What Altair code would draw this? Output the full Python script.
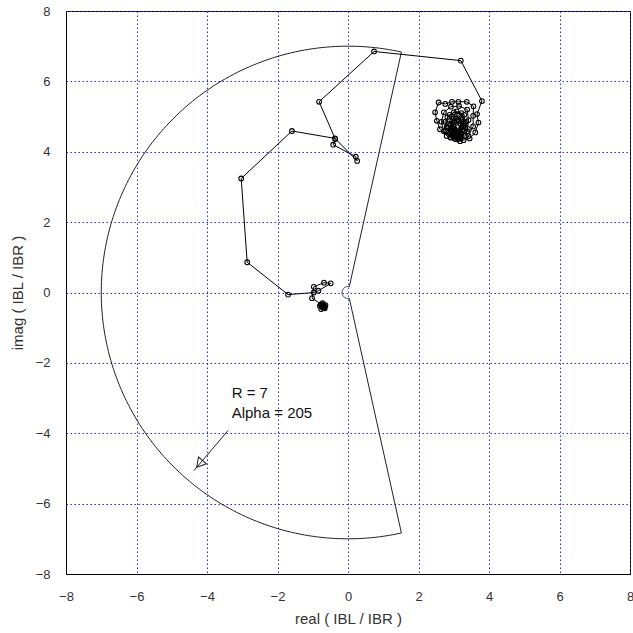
import altair as alt
import numpy as np
import pandas as pd

# ---- trajectory (complex ratio IBL/IBR) ----
traj_x = [-0.72, -0.64, -0.66, -0.76, -0.80, -0.75, -0.68, -0.72, -0.70, -0.74, -0.69, -0.77, -0.66,
          -1.02, -0.97, -0.68, -0.49, -0.84, -0.97, -1.70, -2.86, -3.03,
          -1.59, -0.37, 0.26, 0.22, -0.42, -0.36, -0.82, 0.74, 3.20, 3.80,
          3.66, 3.70, 3.61, 3.45, 3.28, 3.04, 2.80, 2.61, 2.52, 2.47, 2.57,
          2.76, 2.95, 3.13, 3.37, 3.56,
          3.55, 3.55, 3.42, 3.18, 2.92, 2.72, 2.65, 2.72, 2.92, 3.15, 3.38,
          3.42, 3.38, 3.20, 2.95, 2.80, 2.82, 3.00, 3.22,
          3.35, 3.40, 3.32, 3.12, 2.90, 2.78, 2.75, 2.88, 3.08, 3.30,
          3.28, 3.30, 3.18, 3.00, 2.85, 2.85, 2.95, 3.15,
          3.30, 3.22, 3.00, 2.90, 3.00, 3.20,
          3.22, 3.20, 3.05, 2.92, 2.92, 3.05, 3.22,
          3.18, 3.12, 2.98, 2.95, 3.02, 3.18,
          3.25, 3.10, 2.95, 2.97, 3.14, 3.27, 3.20, 3.05, 3.00,
          3.15, 3.05, 3.00, 3.10]
traj_y = [-0.30, -0.36, -0.45, -0.47, -0.38, -0.33, -0.40, -0.42, -0.36, -0.40, -0.44, -0.35, -0.40,
          -0.16, 0.16, 0.28, 0.26, 0.05, 0.00, -0.06, 0.86, 3.24,
          4.59, 4.38, 3.74, 3.86, 4.20, 4.36, 5.42, 6.85, 6.59, 5.44,
          5.07, 4.83, 4.55, 4.38, 4.33, 4.36, 4.45, 4.64, 4.88, 5.12, 5.40,
          5.36, 5.42, 5.42, 5.42, 5.29,
          5.02, 4.72, 4.45, 4.30, 4.40, 4.58, 4.85, 5.12, 5.28, 5.30, 5.20,
          4.90, 4.58, 4.42, 4.50, 4.70, 4.98, 5.12, 5.10,
          4.85, 4.65, 4.45, 4.35, 4.42, 4.60, 4.85, 5.05, 5.15, 5.05,
          4.80, 4.60, 4.40, 4.40, 4.55, 4.80, 5.00, 5.02,
          4.75, 4.52, 4.55, 4.75, 4.95, 4.95,
          4.70, 4.48, 4.42, 4.58, 4.78, 4.95, 4.90,
          4.62, 4.48, 4.52, 4.68, 4.85, 4.80,
          4.62, 4.50, 4.62, 4.82, 4.88, 4.70, 4.55, 4.60, 4.72,
          4.58, 4.55, 4.65, 4.70]

# ---- protection sector ----
R = 7
ALPHA = 205
R_INNER = 0.17

# ---- annotation ----
label_lines = ["R = 7", "Alpha = 205"]
label_x = [-3.30, -3.30]
label_y = [-2.85, -3.42]
arrow_x = [-3.40, -4.37]
arrow_y = [-3.92, -5.06]

ticks = [-8, -6, -4, -2, 0, 2, 4, 6, 8]

traj = pd.DataFrame({"x": traj_x, "y": traj_y, "i": range(len(traj_x))})

half = ALPHA / 2.0
ang = np.radians(np.linspace(180 - half, 180 + half, 200))
sx = list(R * np.cos(ang)) + list(R_INNER * np.cos(ang[::-1])) + [R * np.cos(ang[0])]
sy = list(R * np.sin(ang)) + list(R_INNER * np.sin(ang[::-1])) + [R * np.sin(ang[0])]
sector = pd.DataFrame({"x": sx, "y": sy, "i": range(len(sx))})

xs = alt.Scale(domain=[-8, 8], nice=False, zero=False)
ys = alt.Scale(domain=[-8, 8], nice=False, zero=False)

grid_col = "#2a2aff"
xax = alt.Axis(values=ticks, title="real ( IBL / IBR )", grid=True, gridColor=grid_col,
               gridDash=[1.5, 2.5], gridWidth=1, ticks=False, labelPadding=16,
               labelFont="Liberation Sans", labelFontSize=13, labelColor="#333333",
               titleFont="Liberation Sans", titleFontSize=15, titleFontWeight="normal",
               titleColor="#333333", titlePadding=8, domainColor="black", labelFlush=False)
yax = alt.Axis(values=ticks, title="imag ( IBL / IBR )", grid=True, gridColor=grid_col,
               gridDash=[1.5, 2.5], gridWidth=1, ticks=False, labelPadding=16,
               labelFont="Liberation Sans", labelFontSize=13, labelColor="#333333",
               titleFont="Liberation Sans", titleFontSize=15, titleFontWeight="normal",
               titleColor="#333333", titlePadding=10, domainColor="black", labelFlush=False)

sector_line = alt.Chart(sector).mark_line(color="#222222", strokeWidth=1).encode(
    x=alt.X("x:Q", scale=xs, axis=xax),
    y=alt.Y("y:Q", scale=ys, axis=yax),
    order="i:Q",
)

traj_line = alt.Chart(traj).mark_line(color="black", strokeWidth=1).encode(
    x=alt.X("x:Q", scale=xs), y=alt.Y("y:Q", scale=ys), order="i:Q"
)
traj_pts = alt.Chart(traj).mark_point(shape="circle", filled=False, color="black",
                                      size=22, strokeWidth=1.1, opacity=1).encode(
    x=alt.X("x:Q", scale=xs), y=alt.Y("y:Q", scale=ys)
)

ann = pd.DataFrame({"t": label_lines, "x": label_x, "y": label_y})
ann_text = alt.Chart(ann).mark_text(align="left", baseline="middle", fontSize=15,
                                    font="Liberation Sans", color="#111111").encode(
    x=alt.X("x:Q", scale=xs), y=alt.Y("y:Q", scale=ys), text="t:N"
)

arr = pd.DataFrame({"x": arrow_x, "y": arrow_y, "i": [0, 1]})
arrow_shaft = alt.Chart(arr).mark_line(color="#222222", strokeWidth=1).encode(
    x=alt.X("x:Q", scale=xs), y=alt.Y("y:Q", scale=ys), order="i:Q"
)
head = pd.DataFrame({"x": [arrow_x[1] + 0.16], "y": [arrow_y[1] + 0.19]})
arrow_head = alt.Chart(head).mark_point(shape="triangle-up", filled=False, color="#222222",
                                        size=110, strokeWidth=1, angle=220, opacity=1).encode(
    x=alt.X("x:Q", scale=xs), y=alt.Y("y:Q", scale=ys)
)

chart = alt.layer(sector_line, traj_line, traj_pts, arrow_shaft, arrow_head, ann_text).properties(
    width=564, height=563,
    autosize=alt.AutoSizeParams(type="none"),
    padding={"left": 66, "top": 11, "right": 3, "bottom": 59},
    background="white",
).configure_view(stroke="black", strokeWidth=1)

chart.save("out.html", embed_options={"renderer": "svg", "actions": False})
